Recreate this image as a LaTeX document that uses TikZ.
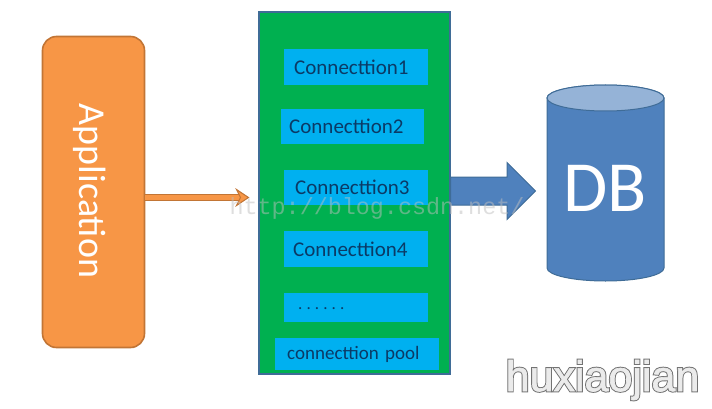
\documentclass[tikz,border=0pt]{standalone}
\usepackage{fontspec}
\setmainfont{Carlito}
\newfontfamily\wmfont{Liberation Mono}
\newfontfamily\hxfont{Liberation Sans}[FakeBold=1.5]
\newfontfamily\hxoutline{Liberation Sans}[FakeBold=6]
\usetikzlibrary{shapes.arrows,calc}
\definecolor{poolgreen}{HTML}{00B050}
\definecolor{connblue}{HTML}{00B0F0}
\definecolor{edgeblue}{HTML}{3F6C97}
\definecolor{dbblue}{HTML}{4F81BD}
\definecolor{apporange}{HTML}{F79646}
\definecolor{appedge}{HTML}{C27535}
\definecolor{inkblue}{HTML}{0B3A66}
\tikzset{
  connbox/.style={fill=connblue,draw=none,inner sep=0pt,anchor=north west,text=inkblue,align=left,font=\fontsize{21}{24}\selectfont},
}
\begin{document}
\begin{tikzpicture}[x=1pt,y=-1pt]
\useasboundingbox (0,0) rectangle (712,409);
\fill[white] (0,0) rectangle (712,409);
\node[draw=appedge,line width=1.6pt,fill=apporange,rounded corners=14pt,minimum width=102pt,minimum height=311pt,inner sep=0pt,anchor=center] (app) at (93.5,192) {};
\node[rotate=-90,text=white,font=\fontsize{38}{44}\selectfont] (applabel) at (90,191) {Application};
\node[draw=edgeblue,line width=2pt,fill=poolgreen,minimum width=191pt,minimum height=361pt,inner sep=0pt] (pool) at (354,193) {};
\node[connbox,minimum width=144pt,minimum height=36pt,text width=144pt] (c1) at (284,49) {\hspace{10pt}Connecttion1};
\node[connbox,minimum width=143pt,minimum height=35pt,text width=143pt] (c2) at (281,109) {\hspace{8pt}Connecttion2};
\node[connbox,minimum width=144pt,minimum height=35pt,text width=144pt] (c3) at (284,170) {\hspace{11pt}Connecttion3};
\node[connbox,minimum width=144pt,minimum height=36pt,text width=144pt] (c4) at (284,231) {\hspace{9pt}Connecttion4};
\node[connbox,minimum width=144pt,minimum height=29pt,text width=144pt,font=\fontsize{17}{20}\selectfont] (c5) at (284,293) {\hspace{14pt}\raisebox{-4pt}{\addfontfeatures{LetterSpace=24}......}};
\node[connbox,minimum width=164pt,minimum height=32pt,text width=164pt,font=\fontsize{19}{22}\selectfont] (c6) at (275,338) {\hspace{12pt}connecttion pool};
\coordinate (arrowend) at ($(pool.west)+(-9,4.5)$);
\draw[appedge,line width=7pt] (app.east |- arrowend) -- ($(arrowend)+(-8,0)$);
\draw[apporange,line width=4.4pt] (app.east |- arrowend) -- ($(arrowend)+(-8,0)$);
\fill[apporange,draw=appedge,line width=1pt] ($(arrowend)+(-12,-8)$) -- (arrowend) -- ($(arrowend)+(-12,8)$) -- ($(arrowend)+(-8,0)$) -- cycle;
\node[single arrow,draw=edgeblue,line width=1pt,fill=dbblue,minimum height=85pt,single arrow head extend=14.5pt,single arrow tip angle=90,inner sep=0pt,anchor=west] (flow) at (450,191) {\rule{0pt}{27pt}};
\draw[edgeblue,line width=1pt,fill=dbblue] (547,98) -- (547,268) arc[start angle=180,end angle=360,x radius=58.5pt,y radius=13pt] -- (664,98) arc[start angle=0,end angle=180,x radius=58.5pt,y radius=13pt];
\draw[edgeblue,line width=1pt,fill=dbblue!60!white] (605.5,98) ellipse[x radius=58.5pt,y radius=13pt];
\node[text=white,font=\fontsize{72}{80}\selectfont] (db) at (605,188) {DB};
\node[text=black!25,font=\wmfont\fontsize{23.4}{26}\selectfont,inner sep=0pt,opacity=.5] (wm) at (377,208) {http://blog.csdn.net/};
\node[text=black!55,font=\hxoutline\fontsize{43}{50}\selectfont,inner sep=0pt] (hx) at (602.5,380) {huxiaojian};
\node[text=white!92!black,font=\hxfont\fontsize{43}{50}\selectfont,inner sep=0pt] (hxtop) at (602.5,380) {huxiaojian};
\end{tikzpicture}
\end{document}
